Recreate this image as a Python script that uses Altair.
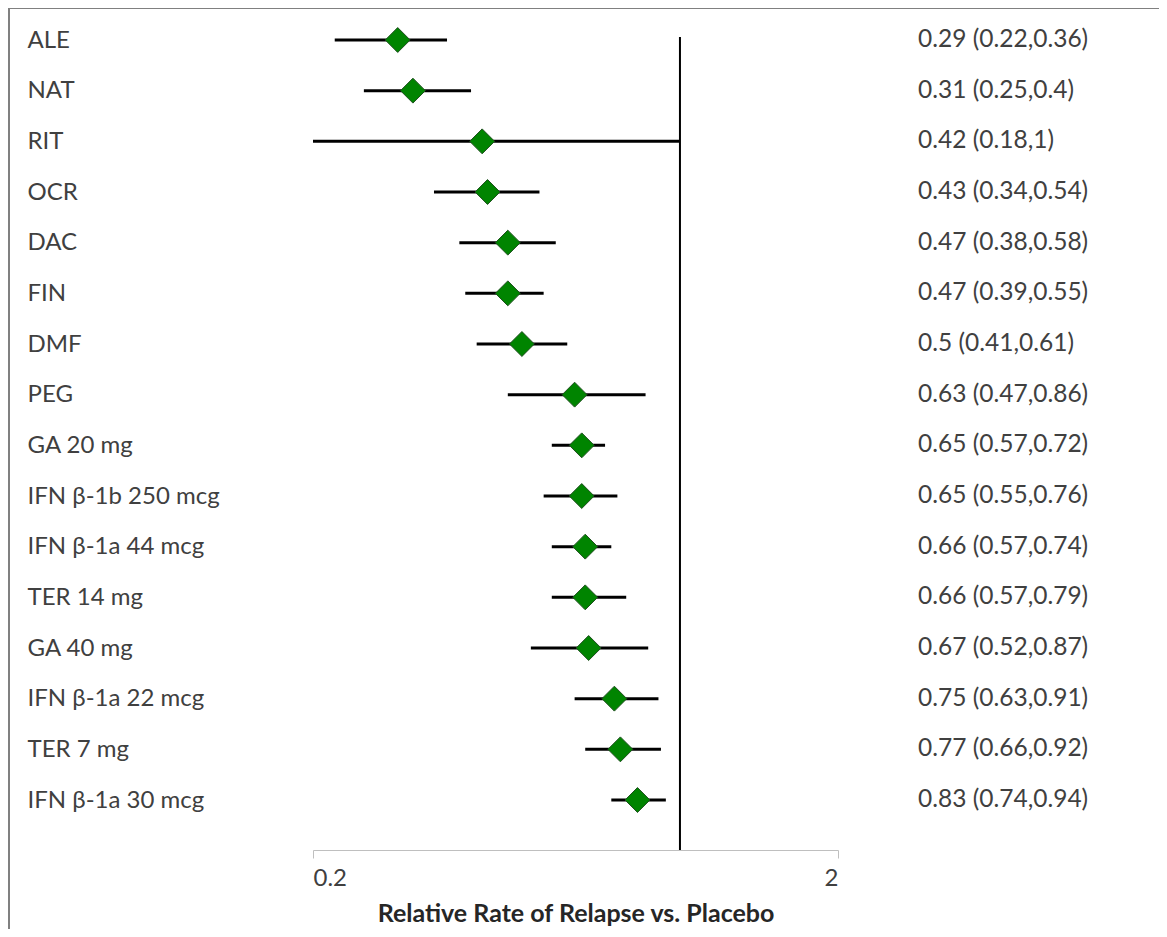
import altair as alt
import pandas as pd

drugs = ["ALE", "NAT", "RIT", "OCR", "DAC", "FIN", "DMF", "PEG", "GA 20 mg",
         "IFN β-1b 250 mcg", "IFN β-1a 44 mcg", "TER 14 mg", "GA 40 mg",
         "IFN β-1a 22 mcg", "TER 7 mg", "IFN β-1a 30 mcg"]
est = [0.29, 0.31, 0.42, 0.43, 0.47, 0.47, 0.5, 0.63, 0.65, 0.65, 0.66, 0.66, 0.67, 0.75, 0.77, 0.83]
lo = [0.22, 0.25, 0.18, 0.34, 0.38, 0.39, 0.41, 0.47, 0.57, 0.55, 0.57, 0.57, 0.52, 0.63, 0.66, 0.74]
hi = [0.36, 0.4, 1, 0.54, 0.58, 0.55, 0.61, 0.86, 0.72, 0.76, 0.74, 0.79, 0.87, 0.91, 0.92, 0.94]
x_ticks = [0.2, 2]
ref_value = 1

labels = [f"{e:g} ({l:g},{h:g})" for e, l, h in zip(est, lo, hi)]
df = pd.DataFrame({"drug": drugs, "est": est, "lo": lo, "hi": hi, "label": labels})

FONT = "Lato"
TXT = "#404040"
FS = 24

xscale = alt.Scale(type="log", domain=[0.2, 2], clamp=True)
yscale = alt.Scale(type="point", domain=drugs, range=[3, 763], padding=0)

base = alt.Chart(df)

y_enc = alt.Y("drug:N", scale=yscale, sort=drugs,
              axis=alt.Axis(title=None, domain=False, ticks=False, labelAlign="left",
                            labelPadding=286, labelFontSize=FS, labelFont=FONT,
                            labelColor=TXT, labelBaseline="middle", labelLimit=400))

x_axis = alt.Axis(values=x_ticks, format="~g", grid=False, domainColor="#bfbfbf",
                  tickColor="#bfbfbf", tickSize=8, labelFontSize=FS, labelFont=FONT,
                  labelColor=TXT, labelPadding=8,
                  title="Relative Rate of Relapse vs. Placebo", titleFont=FONT,
                  titleFontSize=25, titleFontWeight="bold", titleColor="#262626",
                  titlePadding=11)

ref = alt.Chart(pd.DataFrame({"v": [ref_value]})).mark_rule(color="black", strokeWidth=2).encode(
    x=alt.X("v:Q", scale=xscale, axis=x_axis)
)

ci = base.mark_rule(color="black", strokeWidth=3).encode(
    x=alt.X("lo:Q", scale=xscale, axis=x_axis),
    x2="hi:Q",
    y=y_enc,
)

pts = base.mark_point(shape="diamond", filled=True, size=620, fill="#008400",
                      stroke="#1e4f1e", strokeWidth=1, opacity=1).encode(
    x=alt.X("est:Q", scale=xscale),
    y=alt.Y("drug:N", scale=yscale, sort=drugs),
)

txt = base.mark_text(align="left", baseline="middle", font=FONT, fontSize=24.5, color=TXT).encode(
    x=alt.value(605),
    y=alt.Y("drug:N", scale=yscale, sort=drugs),
    text="label:N",
)

frame_top = base.mark_rule(color="#808080", strokeWidth=2).encode(
    x=alt.value(-305), x2=alt.value(846), y=alt.value(-29)
)
frame_left = base.mark_rule(color="#808080", strokeWidth=2).encode(
    x=alt.value(-304), y=alt.value(-29), y2=alt.value(892)
)

chart = alt.layer(frame_top, frame_left, ref, ci, pts, txt).properties(
    width=525, height=813,
    autosize=alt.AutoSizeParams(type="none"),
    padding={"left": 305, "top": 29, "right": 321, "bottom": 79},
).configure_view(stroke=None)

chart.save("out.html", embed_options={"renderer": "svg", "actions": False})
